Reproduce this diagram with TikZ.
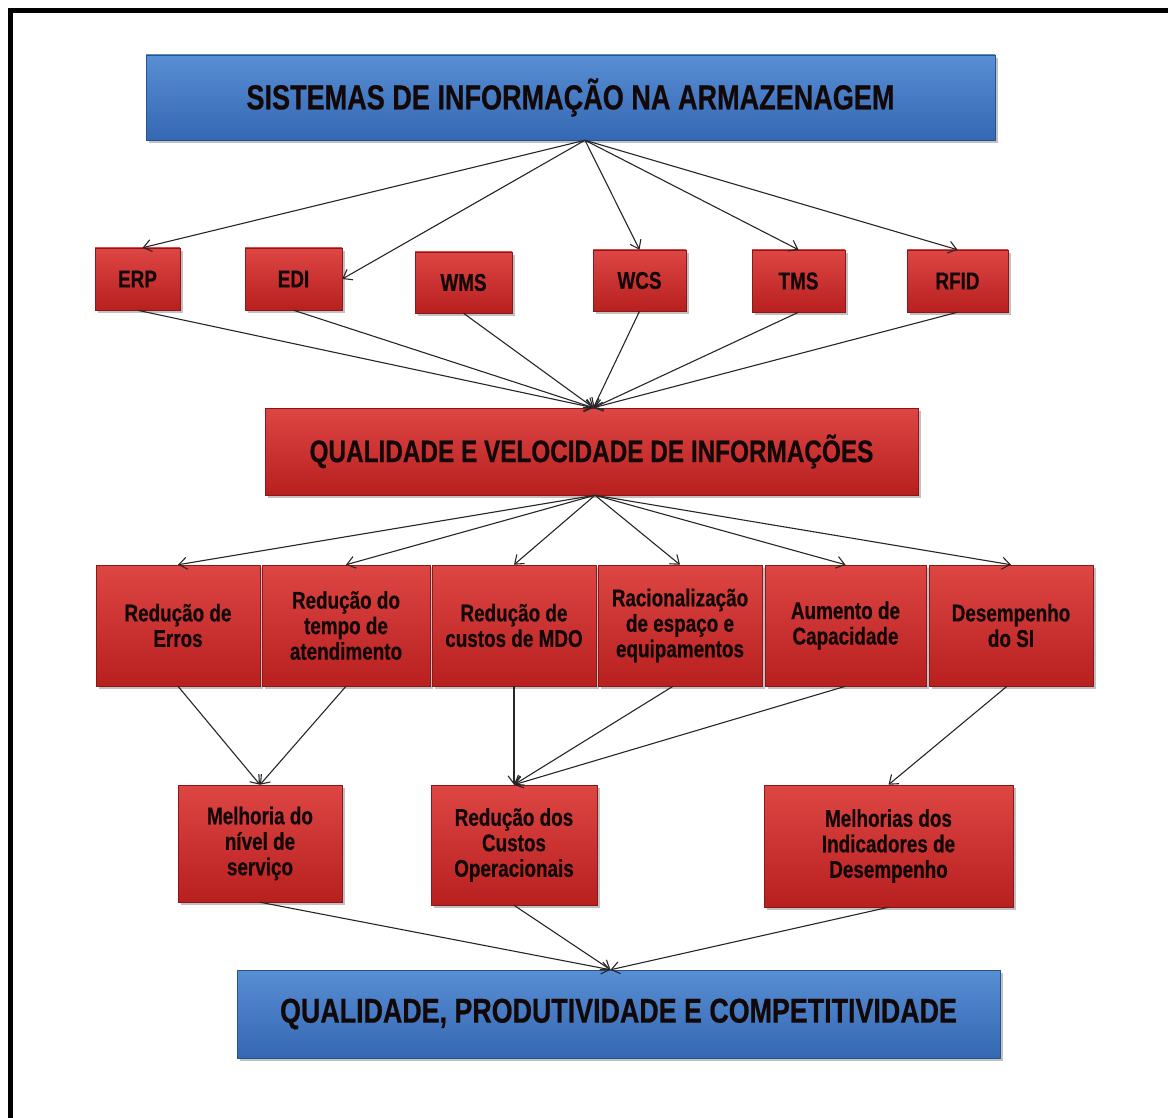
\documentclass[tikz,border=0pt]{standalone}
\usepackage{fontspec}
\setmainfont{Liberation Sans}[FakeStretch=0.78, BoldFeatures={FakeBold=0.6}]
\usetikzlibrary{arrows.meta,shadows}

\definecolor{blueTop}{RGB}{88,142,212}
\definecolor{blueBot}{RGB}{52,104,178}
\definecolor{redTop}{RGB}{222,70,68}
\definecolor{redBot}{RGB}{184,32,32}
\definecolor{txt}{RGB}{18,8,8}

\tikzset{
  boxbase/.style={rectangle, inner sep=0pt, align=center, text=txt,
    drop shadow={shadow xshift=3pt, shadow yshift=-3pt, opacity=0.35, fill=black!70}},
  bluebox/.style={boxbase, top color=blueTop, bottom color=blueBot,
    draw=blueBot!80!black, line width=0.5pt},
  redbox/.style={boxbase, top color=redTop, bottom color=redBot,
    draw=redBot!75!black, line width=0.5pt},
  tagbox/.style={redbox, font=\fontsize{24.2}{26}\selectfont\bfseries},
  itembox/.style={redbox, minimum height=121pt, font=\fontsize{24.2}{25.5}\selectfont\bfseries},
  resbox/.style={redbox, font=\fontsize{24.2}{25.5}\selectfont\bfseries},
  link/.style={-{Straight Barb[length=8pt,width=12pt]}, line width=1.1pt, black!85}
}

\begin{document}
\begin{tikzpicture}[x=1pt,y=-1pt]
  \useasboundingbox (0,0) rectangle (1168,1118);
  % outer frame (left and top edges)
  \draw[line width=4.5pt] (10.5,1118) -- (10.5,10.5) -- (1168,10.5);

  % header
  \node[bluebox, minimum width=849pt, minimum height=85pt,
        font=\fontsize{34.7}{38}\selectfont\bfseries] (top) at (570.5,97.5)
        {SISTEMAS DE INFORMAÇÃO NA ARMAZENAGEM};

  % systems
  \node[tagbox, minimum width=85pt, minimum height=62pt] (erp) at (137.5,279) {ERP};
  \node[tagbox, minimum width=97pt, minimum height=62pt] (edi) at (293.5,279) {EDI};
  \node[tagbox, minimum width=97pt, minimum height=61pt] (wms) at (463.5,282.5) {WMS};
  \node[tagbox, minimum width=93pt, minimum height=61pt] (wcs) at (639.5,280.5) {WCS};
  \node[tagbox, minimum width=93pt, minimum height=62pt] (tms) at (798.5,281) {TMS};
  \node[tagbox, minimum width=101pt, minimum height=62pt] (rfid) at (957.5,281) {RFID};

  % quality of information
  \node[redbox, minimum width=653pt, minimum height=87pt,
        font=\fontsize{31.2}{34}\selectfont\bfseries] (mid) at (591.5,451.5)
        {QUALIDADE E VELOCIDADE DE INFORMAÇÕES};

  % effects
  \node[itembox, minimum width=164pt] (r1) at (178,625.5) {Redução de\\Erros};
  \node[itembox, minimum width=168pt] (r2) at (346,625.5) {Redução do\\tempo de\\atendimento};
  \node[itembox, minimum width=164pt] (r3) at (514,625.5) {Redução de\\custos de MDO};
  \node[itembox, minimum width=164pt] (r4) at (680,625.5) {Racionalização\\de espaço e\\equipamentos};
  \node[itembox, minimum width=161pt] (r5) at (845.5,625.5) {Aumento de\\Capacidade};
  \node[itembox, minimum width=164pt] (r6) at (1011,625.5) {Desempenho\\do SI};

  % results
  \node[resbox, minimum width=164pt, minimum height=117pt] (b1) at (260,843.5)
        {Melhoria do\\nível de\\serviço};
  \node[resbox, minimum width=166pt, minimum height=120pt] (b2) at (514,845)
        {Redução dos\\Custos\\Operacionais};
  \node[resbox, minimum width=249pt, minimum height=122pt] (b3) at (888.5,846)
        {Melhorias dos\\Indicadores de\\Desempenho};

  % final goal
  \node[bluebox, minimum width=763pt, minimum height=88pt,
        font=\fontsize{34.4}{38}\selectfont\bfseries] (fin) at (618.5,1014)
        {QUALIDADE, PRODUTIVIDADE E COMPETITIVIDADE};

  % header to systems
  \coordinate (hub1) at ([xshift=14.5pt]top.south);
  \draw[link] (hub1) -- ([xshift=5pt]erp.north);
  \draw[link] (hub1) -- (edi.east);
  \draw[link] (hub1) -- (wcs.north);
  \draw[link] (hub1) -- (tms.north);
  \draw[link] (hub1) -- (rfid.north);

  % systems to quality of information
  \foreach \s in {erp,edi,wms,wcs,tms,rfid}
    \draw[link] (\s.south) -- ([xshift=2pt]mid.north);

  % quality of information to effects
  \coordinate (hub2) at ([xshift=3.5pt]mid.south);
  \foreach \s in {r1,r2,r3,r4,r5,r6}
    \draw[link] (hub2) -- (\s.north);

  % effects to results
  \draw[link] (r1.south) -- (b1.north);
  \draw[link] (r2.south) -- (b1.north);
  \draw[link] (r3.south) -- (b2.north);
  \draw[link] ([xshift=-7pt]r4.south) -- (b2.north);
  \draw[link] (r5.south) -- (b2.north);
  \draw[link] ([xshift=-4pt]r6.south) -- (b3.north);

  % results to final goal
  \foreach \s in {b1,b2,b3}
    \draw[link] (\s.south) -- ([xshift=-8pt]fin.north);
\end{tikzpicture}
\end{document}
